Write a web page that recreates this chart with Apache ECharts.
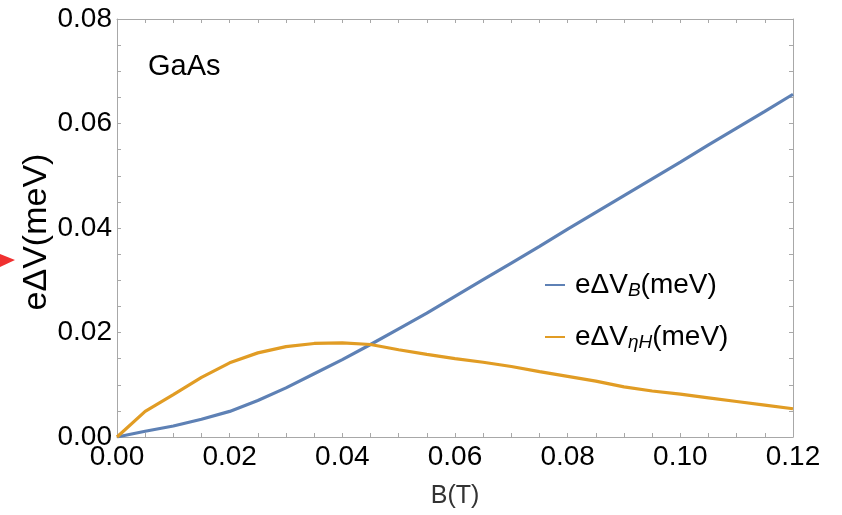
<!DOCTYPE html>
<html><head><meta charset="utf-8">
<script src="https://cdn.jsdelivr.net/npm/echarts@6/dist/echarts.min.js"></script>
<style>html,body{margin:0;padding:0;background:#fff}#c{width:842px;height:515px}</style>
</head><body><div id="c"></div>
<script>
const xValues = [0,0.005,0.01,0.015,0.02,0.025,0.03,0.035,0.04,0.045,0.05,0.055,0.06,0.065,0.07,0.075,0.08,0.085,0.09,0.095,0.10,0.105,0.11,0.115,0.12];
const dVB = [0,0.0011,0.0021,0.0034,0.0049,0.0070,0.0094,0.0121,0.0148,0.0177,0.0207,0.0237,0.0269,0.0301,0.0333,0.0365,0.0398,0.0430,0.0462,0.0494,0.0526,0.0559,0.0591,0.0623,0.0656];
const dVeta = [0,0.0049,0.0081,0.0114,0.0142,0.0161,0.0173,0.0179,0.0180,0.0177,0.0167,0.0158,0.0150,0.0143,0.0135,0.0125,0.0116,0.0107,0.0096,0.0088,0.0082,0.0075,0.0068,0.0061,0.0054];
const seriesNames = ['eΔV_B(meV)', 'eΔV_eta(meV)'];
const FONT = "'Liberation Sans', Arial, sans-serif";
const chart = echarts.init(document.getElementById('c'));
const frame = '#a8a8a8';
function majorLabel(v){
  const r = v/0.02;
  return Math.abs(r - Math.round(r)) < 1e-6 ? v.toFixed(2) : '';
}
function axisCommon(extra){
  return Object.assign({
    type:'value',
    interval:0.005,
    axisLine:{show:true,onZero:false,lineStyle:{color:frame,width:1}},
    axisTick:{show:true,inside:true,length:4,lineStyle:{color:frame}},
    splitLine:{show:false},
  }, extra);
}
chart.setOption({
  backgroundColor:'#fff',
  animation:false,
  grid:{left:117,right:49,top:19,bottom:78},
  xAxis:[
    axisCommon({min:0,max:0.12,position:'bottom',
      axisLabel:{color:'#000',fontSize:28,fontFamily:FONT,margin:6,formatter:majorLabel,hideOverlap:false},
      name:'B(T)',nameLocation:'middle',nameGap:47,nameTextStyle:{color:'#333',fontSize:25,fontFamily:FONT}}),
    axisCommon({min:0,max:0.12,position:'top',axisLabel:{show:false}})
  ],
  yAxis:[
    axisCommon({min:0,max:0.08,position:'left',
      axisLabel:{color:'#000',fontSize:28,fontFamily:FONT,margin:5,formatter:majorLabel,hideOverlap:false}}),
    axisCommon({min:0,max:0.08,position:'right',axisLabel:{show:false}})
  ],
  legend:{
    orient:'vertical',left:540,top:265,itemGap:22,
    icon:'rect',itemWidth:20,itemHeight:2,
    data:seriesNames,
    formatter:function(n){
      return n===seriesNames[0] ? '{a|eΔV}{s|B}{a|(meV)}' : '{a|eΔV}{s|ηH}{a|(meV)}';
    },
    textStyle:{fontFamily:FONT,color:'#000',padding:[0,0,0,5],
      rich:{
        a:{fontSize:28,fontFamily:FONT,color:'#000',lineHeight:32},
        s:{fontSize:19,fontFamily:FONT,fontStyle:'italic',color:'#000',padding:[11,0,0,0],lineHeight:32}
      }}
  },
  graphic:[
    {type:'text',left:148,top:52,style:{text:'GaAs',fontSize:29,fontFamily:FONT,fill:'#000'}},
    {type:'text',x:37,y:232,rotation:Math.PI/2,style:{
      text:'eΔV(meV)',fontSize:34,fontFamily:FONT,fill:'#000',align:'center',verticalAlign:'middle'}},
    {type:'polygon',shape:{points:[[0,254],[15,260],[0,267]]},style:{fill:'#f03030'}}
  ],
  series:[
    {name:seriesNames[0],type:'line',showSymbol:false,smooth:false,
      data:xValues.map((x,i)=>[x,dVB[i]]),lineStyle:{color:'#5E81B5',width:3.2},itemStyle:{color:'#5E81B5'}},
    {name:seriesNames[1],type:'line',showSymbol:false,smooth:false,
      data:xValues.map((x,i)=>[x,dVeta[i]]),lineStyle:{color:'#E19C24',width:3.2},itemStyle:{color:'#E19C24'}}
  ]
});
</script></body></html>
